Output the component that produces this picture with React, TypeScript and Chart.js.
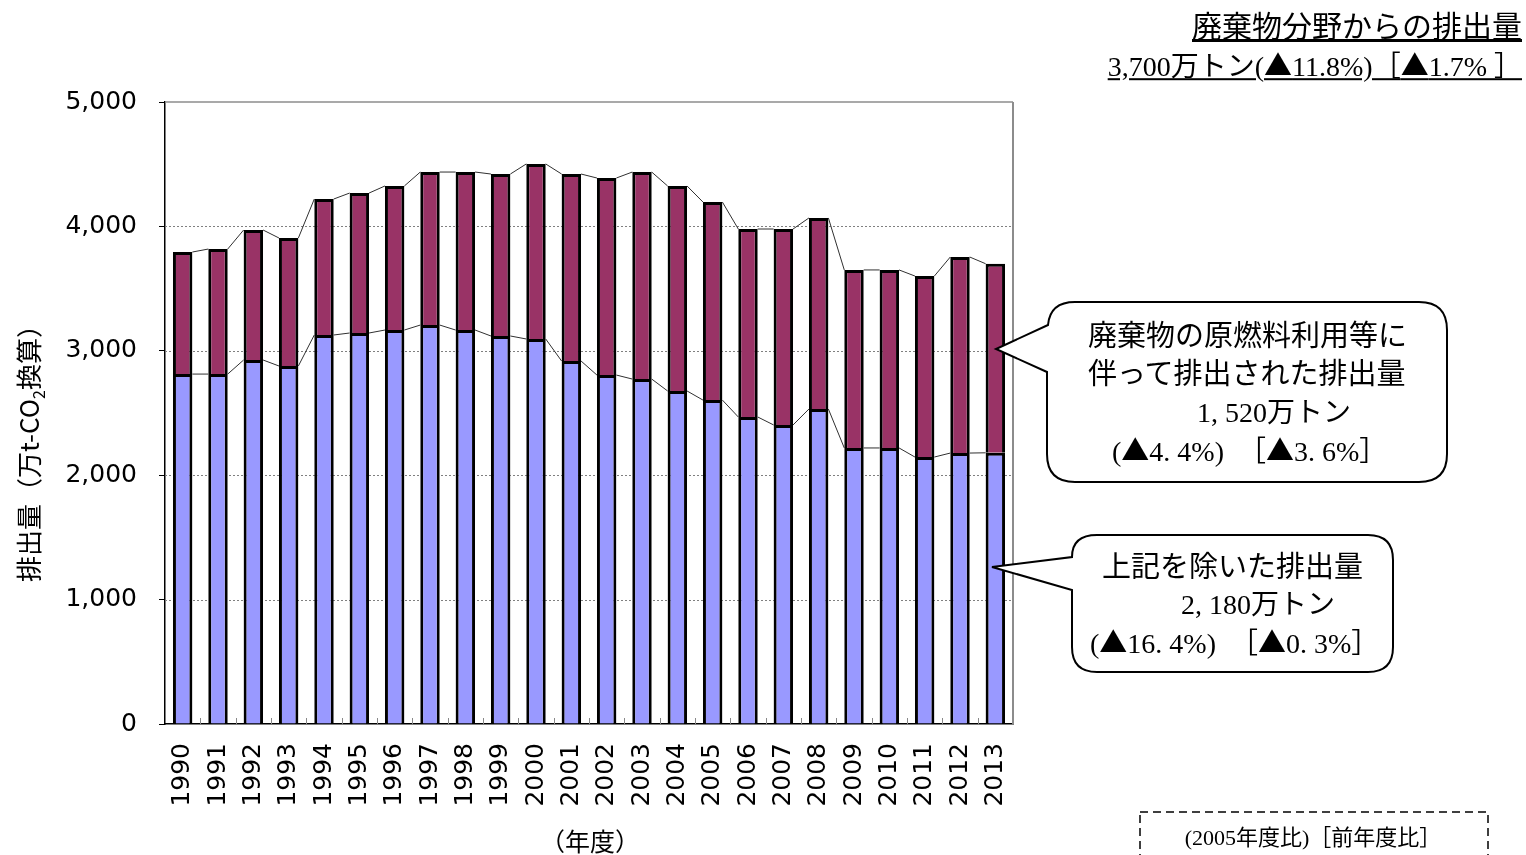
import React, { useEffect, useRef } from 'react';
import { Chart, registerables } from 'chart.js';

Chart.register(...registerables);

const years = ['1990', '1991', '1992', '1993', '1994', '1995', '1996', '1997', '1998', '1999', '2000', '2001', '2002', '2003', '2004', '2005', '2006', '2007', '2008', '2009', '2010', '2011', '2012', '2013'];
// 上記を除いた排出量 (万t-CO2)
const otherEmissions = [2813, 2813, 2926, 2878, 3127, 3143, 3167, 3207, 3167, 3119, 3095, 2918, 2805, 2773, 2677, 2604, 2468, 2404, 2532, 2219, 2219, 2146, 2178, 2180];
// 廃棄物の原燃料利用等に伴って排出された排出量 (万t-CO2)
const fuelUseEmissions = [981, 1005, 1045, 1029, 1093, 1125, 1158, 1230, 1270, 1302, 1407, 1503, 1584, 1664, 1648, 1592, 1511, 1575, 1536, 1431, 1431, 1455, 1576, 1520];
const yTicks = [0, 1000, 2000, 3000, 4000, 5000];

const SERIF = '"Liberation Serif", "Noto Sans CJK JP", serif';
const GOTHIC = '"Noto Sans CJK JP", sans-serif';

const chartPlugin = {
  id: 'decor',
  beforeDatasetsDraw(chart: any) {
    const { ctx, chartArea: a } = chart;
    const ys = chart.scales.y;
    const xs = chart.scales.x;
    ctx.save();
    ctx.strokeStyle = '#808080';
    ctx.lineWidth = 1;
    ctx.setLineDash([2, 2]);
    yTicks.forEach((v) => {
      if (v === 0 || v === 5000) return;
      const py = Math.round(ys.getPixelForValue(v)) + 0.5;
      ctx.beginPath();
      ctx.moveTo(a.left, py);
      ctx.lineTo(a.right, py);
      ctx.stroke();
    });
    ctx.setLineDash([]);
    // inward x tick marks at category boundaries
    ctx.strokeStyle = '#888';
    ctx.lineWidth = 1;
    const n = years.length;
    for (let i = 1; i < n; i++) {
      const px = Math.round((xs.getPixelForValue(i - 1) + xs.getPixelForValue(i)) / 2) + 0.5;
      ctx.beginPath();
      ctx.moveTo(px, a.bottom);
      ctx.lineTo(px, a.bottom - 6);
      ctx.stroke();
    }
    ctx.restore();
  },
  afterDatasetsDraw(chart: any) {
    const { ctx, chartArea: a } = chart;
    ctx.save();
    ctx.strokeStyle = '#303030';
    ctx.lineWidth = 1;
    for (let d = 0; d < chart.data.datasets.length; d++) {
      const meta = chart.getDatasetMeta(d);
      for (let i = 0; i < meta.data.length - 1; i++) {
        const b1 = meta.data[i];
        const b2 = meta.data[i + 1];
        ctx.beginPath();
        ctx.moveTo(b1.x + b1.width / 2, b1.y);
        ctx.lineTo(b2.x - b2.width / 2, b2.y);
        ctx.stroke();
      }
    }
    // top and right frame
    ctx.strokeStyle = '#8c8c8c';
    ctx.lineWidth = 1.5;
    ctx.beginPath();
    ctx.moveTo(a.left, a.top);
    ctx.lineTo(a.right, a.top);
    ctx.stroke();
    ctx.lineWidth = 2;
    ctx.beginPath();
    ctx.moveTo(a.right, a.top);
    ctx.lineTo(a.right, a.bottom);
    ctx.stroke();
    ctx.restore();
  },
};

const Txt = ({ x, y, size, family = SERIF, anchor = 'left', style = {}, children }: any) => (
  <div
    style={{
      position: 'absolute',
      left: x,
      top: y,
      fontSize: size,
      fontFamily: family,
      lineHeight: 1.2,
      whiteSpace: 'nowrap',
      color: '#000',
      transform: `translate(${anchor === 'right' ? '-100%' : anchor === 'center' ? '-50%' : '0'}, -50%)`,
      ...style,
    }}
  >
    {children}
  </div>
);

const Tri = () => <span style={{ fontFamily: GOTHIC }}>▲</span>;

export default function App() {
  const ref = useRef<HTMLCanvasElement>(null);

  useEffect(() => {
    if (!ref.current) return;
    const chart = new Chart(ref.current, {
      type: 'bar',
      data: {
        labels: years,
        datasets: [
          {
            label: '上記を除いた排出量',
            data: otherEmissions,
            backgroundColor: '#9999ff',
            borderColor: '#000',
            borderWidth: 3,
            barPercentage: 0.55,
            categoryPercentage: 1,
          },
          {
            label: '廃棄物の原燃料利用等に伴って排出された排出量',
            data: fuelUseEmissions,
            backgroundColor: '#993366',
            borderColor: '#000',
            borderWidth: 3,
            barPercentage: 0.55,
            categoryPercentage: 1,
          },
        ],
      },
      options: {
        responsive: false,
        animation: false,
        devicePixelRatio: 1,
        layout: { padding: { top: 102, right: 513, left: 0, bottom: 0 } },
        plugins: { legend: { display: false }, tooltip: { enabled: false }, title: { display: false } },
        scales: {
          x: {
            stacked: true,
            afterFit: (s: any) => { s.height = 131; },
            grid: { display: true, drawOnChartArea: false, drawTicks: false, offset: true },
            border: { display: true, color: '#000', width: 1.5 },
            ticks: {
              autoSkip: false,
              minRotation: 90,
              maxRotation: 90,
              padding: 19,
              color: '#000',
              font: { family: '"DejaVu Sans", sans-serif', size: 25 },
            },
          },
          y: {
            stacked: true,
            min: 0,
            max: 5000,
            afterFit: (s: any) => { s.width = 165; },
            afterBuildTicks: (s: any) => { s.ticks = yTicks.map((v) => ({ value: v })); },
            grid: { drawOnChartArea: false, drawTicks: true, tickLength: 6, tickColor: '#000' },
            border: { display: true, color: '#000', width: 1.5 },
            ticks: {
              padding: 22,
              color: '#000',
              font: { family: '"DejaVu Sans", sans-serif', size: 25 },
              callback: (v: any) => Number(v).toLocaleString('en-US'),
            },
          },
        },
      },
      plugins: [chartPlugin],
    });
    return () => chart.destroy();
  }, []);

  return (
    <div style={{ position: 'absolute', left: 0, top: 0, width: 1526, height: 855, overflow: 'hidden', background: '#fff' }}>
      <canvas ref={ref} width={1526} height={855} style={{ position: 'absolute', left: 0, top: 0 }} />
      <svg width={1526} height={855} style={{ position: 'absolute', left: 0, top: 0, pointerEvents: 'none' }}>
        <path
          d="M 1075 302 H 1419 Q 1447 302 1447 330 V 454 Q 1447 482 1419 482 H 1075 Q 1047 482 1047 454 V 372 L 996 349 L 1048 325 Q 1050 302 1075 302 Z"
          fill="#fff"
          stroke="#000"
          strokeWidth={2}
        />
        <path
          d="M 1097 535 H 1368 Q 1393 535 1393 560 V 647 Q 1393 672 1368 672 H 1097 Q 1072 672 1072 647 V 590 L 992 567 L 1072 557 Q 1072 535 1097 535 Z"
          fill="#fff"
          stroke="#000"
          strokeWidth={2}
        />
        <rect x={1140} y={812} width={348} height={80} fill="none" stroke="#000" strokeWidth={1.5} strokeDasharray="8 5" />
      </svg>

      <Txt x={1522} y={27} size={30} anchor="right" style={{ textDecoration: 'underline' }}>廃棄物分野からの排出量</Txt>
      <Txt x={1522} y={66} size={28} anchor="right" style={{ textDecoration: 'underline' }}>3,700万トン(<Tri />11.8%)［<Tri />1.7% ］</Txt>

      <Txt x={1088} y={336} size={29}>廃棄物の原燃料利用等に</Txt>
      <Txt x={1088} y={374} size={29}>伴って排出された排出量</Txt>
      <Txt x={1197} y={413} size={28}>1, 520万トン</Txt>
      <Txt x={1112} y={451} size={28}>(<Tri />4. 4%)　［<Tri />3. 6%］</Txt>

      <Txt x={1102} y={567} size={29}>上記を除いた排出量</Txt>
      <Txt x={1181} y={605} size={28}>2, 180万トン</Txt>
      <Txt x={1090} y={643} size={28}>(<Tri />16. 4%)　［<Tri />0. 3%］</Txt>

      <Txt x={1313} y={838} size={22} anchor="center">(2005年度比)［前年度比］</Txt>

      <div
        style={{
          position: 'absolute',
          left: 30,
          top: 447,
          transform: 'translate(-50%, -50%) rotate(-90deg)',
          fontSize: 26,
          fontFamily: GOTHIC,
          whiteSpace: 'nowrap',
          lineHeight: 1.2,
          color: '#000',
        }}
      >
        排出量（万t-CO<sub style={{ fontSize: 16 }}>2</sub>換算）
      </div>
      <Txt x={590} y={840} size={25} family={GOTHIC} anchor="center">（年度）</Txt>
    </div>
  );
}
